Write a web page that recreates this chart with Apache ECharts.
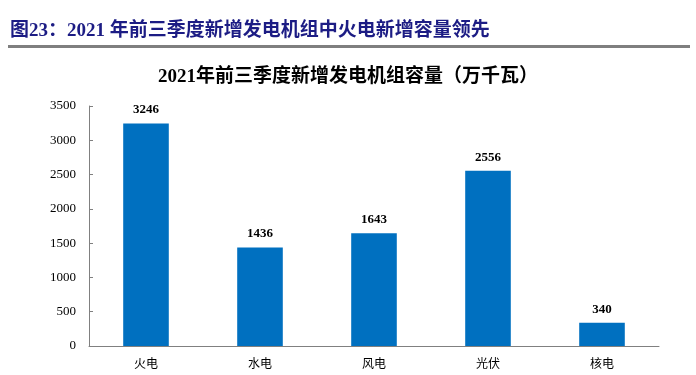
<!DOCTYPE html>
<html><head><meta charset="utf-8">
<script src="https://cdn.jsdelivr.net/npm/echarts@6/dist/echarts.min.js"></script>
<style>html,body{margin:0;padding:0;background:#fff}#c{width:696px;height:375px}</style>
</head><body><div id="c"></div>
<script>
const categories = ['火电','水电','风电','光伏','核电'];
const values = [3246, 1436, 1643, 2556, 340];
const yTicks = [0, 500, 1000, 1500, 2000, 2500, 3000, 3500];
const headerText = '图23：2021 年前三季度新增发电机组中火电新增容量领先';
const chartTitle = '2021年前三季度新增发电机组容量（万千瓦）';

const serif = '"Liberation Serif","Noto Sans CJK SC",serif';
const chart = echarts.init(document.getElementById('c'));
chart.setOption({
  backgroundColor: '#fff',
  animation: false,
  title: {
    text: chartTitle, left: 'center', top: 63,
    textStyle: { fontFamily: serif, fontSize: 19, fontWeight: 'bold', color: '#000' }
  },
  graphic: [
    { type: 'text', left: 10, top: 22, style: { text: headerText, font: 'bold 19px ' + serif, fill: '#1c1c84' } },
    { type: 'rect', shape: { x: 8, y: 45, width: 682, height: 3 }, style: { fill: '#7f7f7f' } }
  ],
  grid: { left: 89, right: 37, top: 106, bottom: 29 },
  xAxis: {
    type: 'category', data: categories,
    axisLine: { lineStyle: { color: '#808080', width: 1 } },
    axisTick: { inside: true, length: 4, lineStyle: { color: '#808080' } },
    axisLabel: { color: '#000', fontFamily: serif, fontSize: 12, margin: 13 }
  },
  yAxis: {
    type: 'value', min: 0, max: yTicks[yTicks.length - 1], interval: yTicks[1] - yTicks[0],
    axisLine: { show: true, lineStyle: { color: '#808080', width: 1 } },
    axisTick: { show: true, inside: true, length: 4, lineStyle: { color: '#808080' } },
    splitLine: { show: false },
    axisLabel: { color: '#000', fontFamily: serif, fontSize: 13, margin: 13, formatter: v => String(v) }
  },
  series: [{
    type: 'bar', data: values, barWidth: '40%',
    itemStyle: { color: '#0070C0' },
    label: { show: true, position: 'top', distance: 7, color: '#000', fontFamily: serif, fontSize: 13, fontWeight: 'bold' }
  }]
});
</script></body></html>
